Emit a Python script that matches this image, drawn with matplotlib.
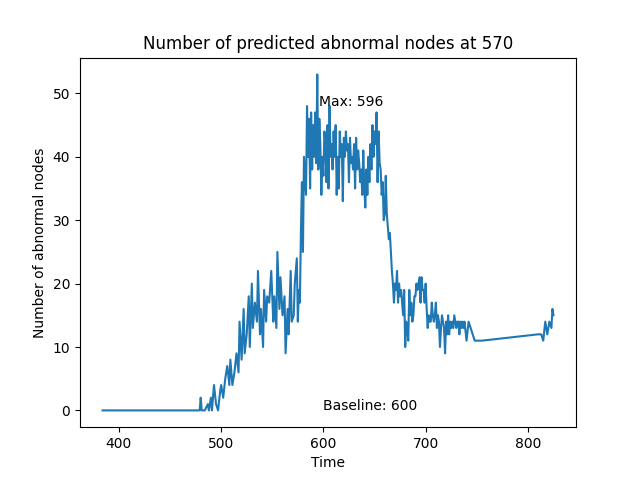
import matplotlib
matplotlib.use("Agg")
import matplotlib.pyplot as plt

time = [384, 479, 480, 481, 484, 487, 488, 490, 491, 493, 495, 497, 499, 500, 502, 504, 506, 508, 509, 511,
        513, 515, 517, 518, 520, 522, 523, 525, 527, 528, 530, 531, 533, 535, 536, 538, 539, 541, 542, 544,
        545, 547, 549, 551, 552, 554, 555, 557, 558, 560, 562, 563, 565, 566, 568, 569, 571, 572, 574, 575,
        576, 577, 578, 579, 580, 581, 582, 583, 584, 585, 586, 587, 588, 589, 590, 591, 592, 593, 594, 595,
        596, 597, 598, 599, 600, 601, 602, 603, 604, 605, 606, 607, 608, 609, 610, 611, 612, 613, 614, 615,
        616, 617, 618, 619, 620, 621, 622, 623, 624, 625, 626, 627, 628, 629, 630, 631, 632, 633, 634, 635,
        636, 637, 638, 639, 640, 641, 642, 643, 644, 645, 646, 647, 648, 649, 650, 651, 652, 653, 654, 655,
        656, 657, 658, 659, 660, 661, 662, 663, 664, 665, 666, 667, 668, 669, 670, 671, 672, 673, 674, 675,
        676, 677, 678, 679, 680, 681, 682, 683, 684, 685, 686, 687, 688, 689, 690, 691, 692, 693, 694, 695,
        696, 697, 698, 699, 700, 701, 702, 703, 704, 705, 706, 707, 708, 709, 710, 711, 712, 713, 714, 715,
        716, 717, 718, 719, 720, 721, 722, 723, 724, 725, 726, 727, 728, 729, 730, 731, 732, 733, 734, 735,
        736, 737, 738, 740, 742, 744, 746, 748, 750, 752, 754, 755, 810, 811, 813, 815, 817, 819, 821, 823, 824, 825]
abnormal = [0, 0, 2, 0, 0, 1, 0, 2, 0, 4, 1, 0, 3, 4, 2, 5, 7, 4, 8, 4,
            6, 9, 6, 14, 8, 16, 9, 12, 18, 10, 20, 13, 17, 14, 22, 12, 16, 10, 19, 14,
            18, 17, 22, 14, 18, 13, 25, 16, 21, 15, 18, 9, 16, 12, 22, 14, 15, 20, 24, 14,
            19, 17, 28, 36, 25, 40, 37, 34, 48, 40, 46, 35, 47, 38, 45, 40, 47, 39, 53, 38,
            46, 42, 34, 40, 37, 44, 42, 36, 45, 35, 48, 40, 42, 38, 44, 40, 45, 34, 40, 35,
            44, 40, 42, 33, 43, 40, 44, 41, 42, 36, 43, 39, 40, 38, 42, 35, 43, 38, 41, 39,
            36, 38, 34, 41, 35, 32, 38, 34, 40, 36, 42, 38, 45, 40, 44, 42, 47, 36, 44, 39,
            38, 34, 36, 30, 31, 37, 31, 29, 27, 28, 25, 22, 20, 17, 20, 19, 22, 17, 20, 18,
            19, 17, 15, 19, 10, 14, 13, 11, 19, 15, 17, 14, 15, 18, 18, 20, 19, 20, 21, 17,
            21, 19, 19, 17, 20, 16, 13, 15, 14, 14, 17, 15, 14, 15, 17, 13, 15, 14, 10, 13,
            15, 14, 13, 9, 14, 12, 15, 12, 14, 13, 14, 13, 15, 14, 13, 14, 14, 12, 14, 13,
            14, 13, 14, 11, 14, 13, 12, 11, 11, 11, 11, 11, 12, 12, 12, 11, 14, 12, 14, 13, 16, 15]

fig, ax = plt.subplots(figsize=(6.4, 4.8))
ax.plot(time, abnormal, color="#1f77b4")
ax.set_title("Number of predicted abnormal nodes at 570")
ax.set_xlabel("Time")
ax.set_ylabel("Number of abnormal nodes")
ax.text(596, 48, "Max: 596")
ax.text(600, 0, "Baseline: 600")
plt.savefig("out.png", dpi=100)
